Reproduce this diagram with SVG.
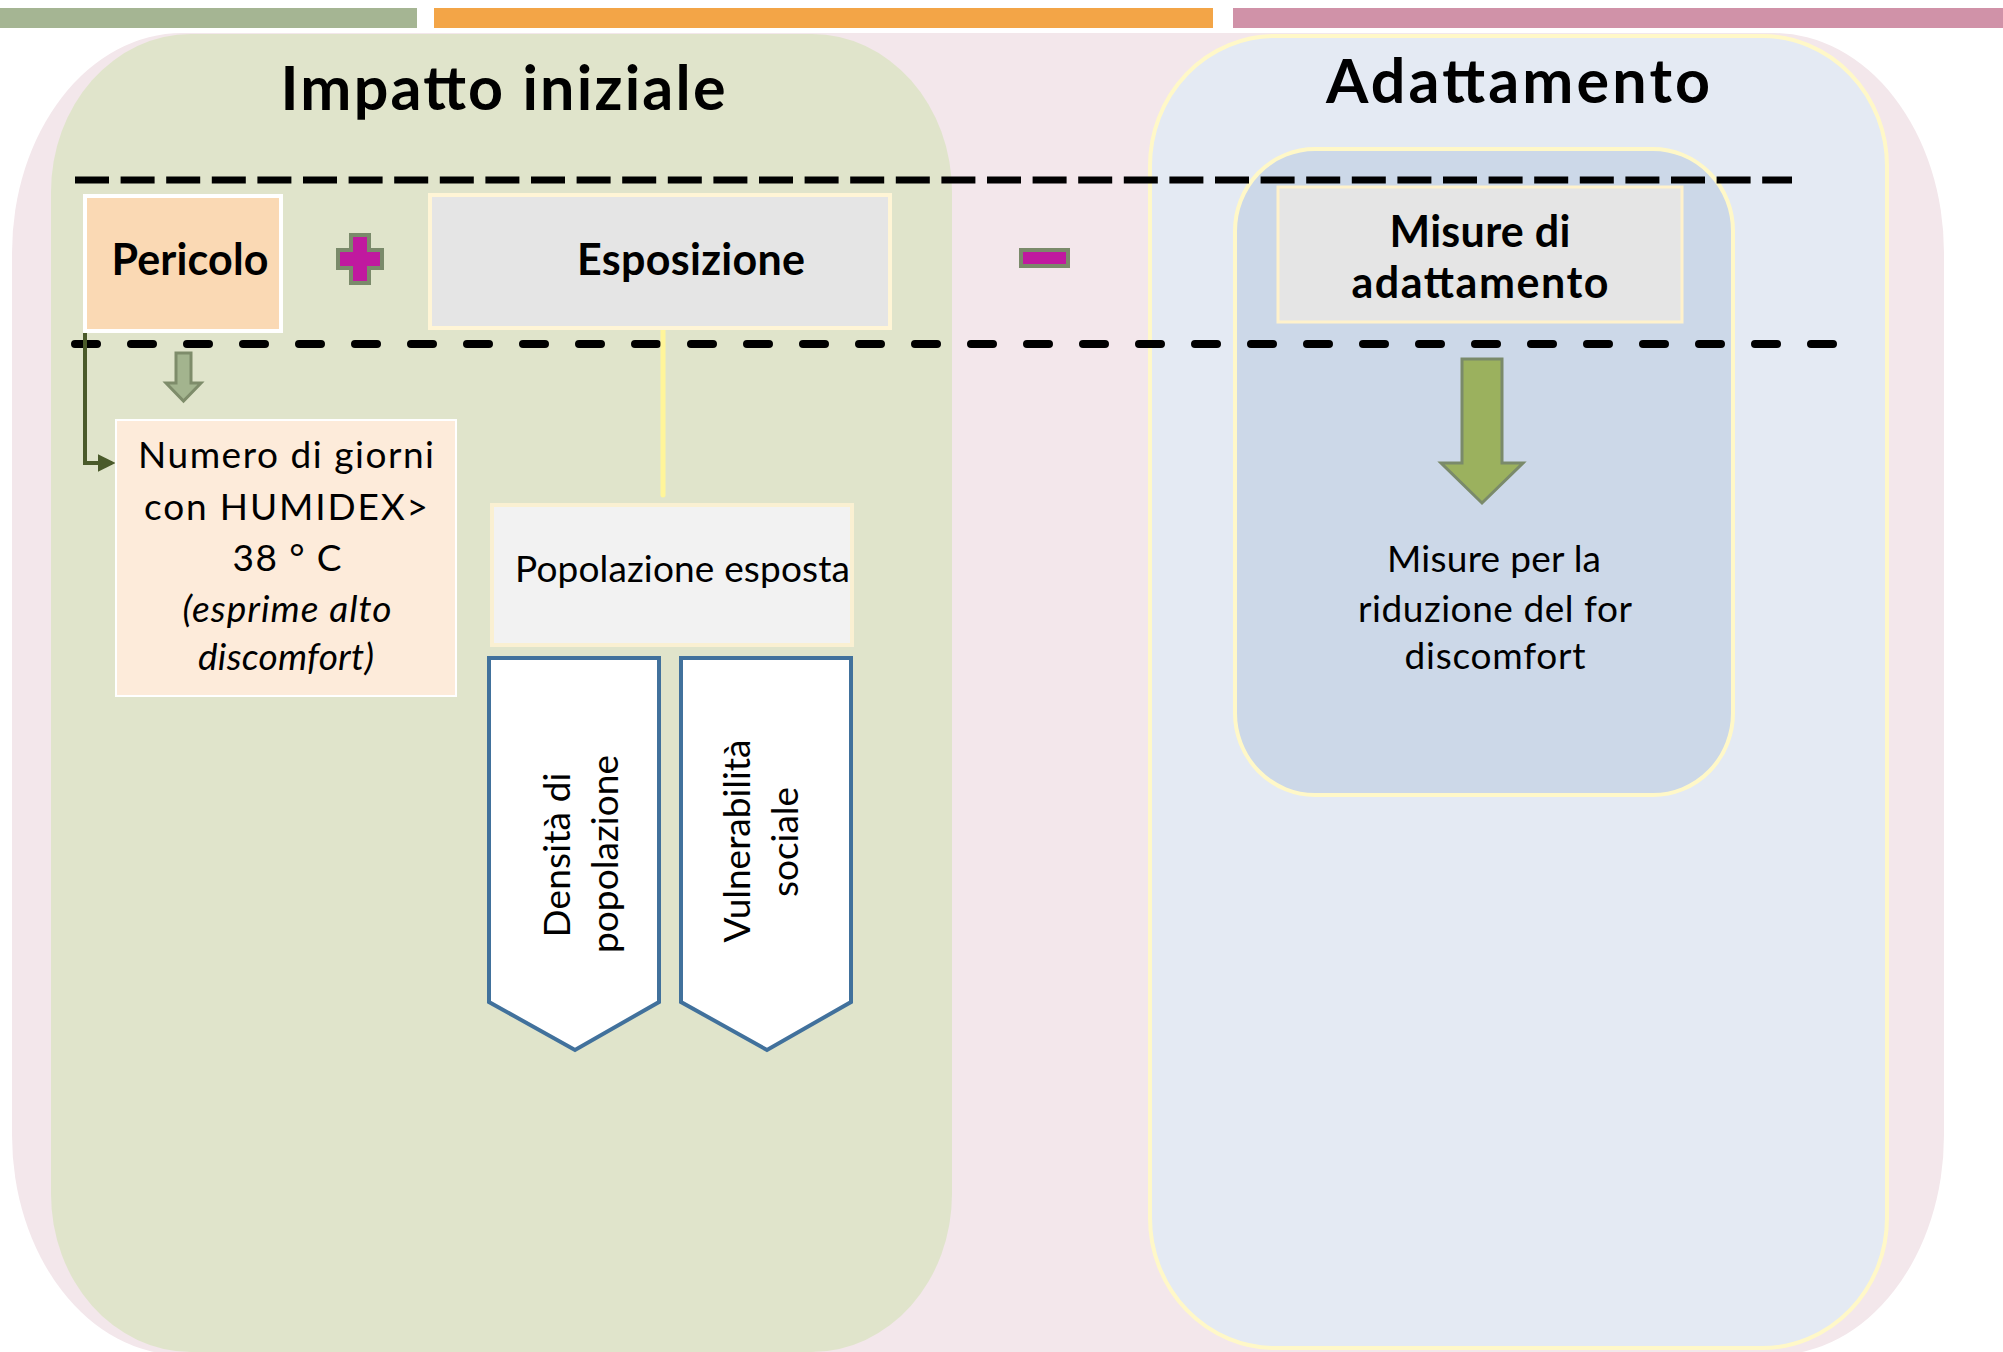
<svg xmlns="http://www.w3.org/2000/svg" width="2003" height="1352" viewBox="0 0 2003 1352">
<defs>
<style>
.t{font-family:Lato,"Open Sans","Liberation Sans",sans-serif;fill:#000}
.title{font-size:61px;font-weight:bold}
.hd{font-size:43px;font-weight:bold}
.bd{font-size:37px}
.dash1{stroke:#000;stroke-width:7;stroke-dasharray:34 11.6;fill:none}
.dash2{stroke:#000;stroke-width:8;stroke-dasharray:22 34;stroke-linecap:round;fill:none}
.pent{fill:#fff;stroke:#41719C;stroke-width:4}
.op{fill:#C0199F;stroke:#7A8A6A;stroke-width:4}
</style>
<marker id="ah" viewBox="0 0 10 10" refX="8" refY="5" markerWidth="4.5" markerHeight="4.5" orient="auto" markerUnits="strokeWidth">
<path d="M0,0 L10,5 L0,10 z" fill="#4A5A2A"/>
</marker>
</defs>
<rect width="2003" height="1352" fill="#fff"/>
<g id="bars">
<rect x="0" y="8" width="417" height="20" fill="#A5B593"/>
<rect x="434" y="8" width="779" height="20" fill="#F3A547"/>
<rect x="1233" y="8" width="770" height="20" fill="#D092A8"/>
</g>
<g id="background">
<rect x="12" y="33" width="1932" height="1322" rx="170" ry="220" fill="#F3E7EB"/>
</g>
<g id="impatto">
<rect x="51" y="34" width="901" height="1318" rx="140" ry="158" fill="#E0E4CB"/>
<text class="t title" x="503" y="110" text-anchor="middle" textLength="445">Impatto iniziale</text>
</g>
<g id="adattamento">
<rect x="1150" y="36" width="737" height="1312" rx="125" ry="130" fill="#E4EAF3" stroke="#FFF8C8" stroke-width="4"/>
<text class="t title" x="1518" y="103" text-anchor="middle" textLength="384">Adattamento</text>
</g>
<g id="adattamento-inner">
<rect x="1235" y="149" width="498" height="646" rx="80" ry="82" fill="#CCD8E8" stroke="#FFF8C8" stroke-width="4"/>
</g>
<g id="dashes">
<line class="dash1" x1="75" y1="180" x2="1792" y2="180"/>
<line class="dash2" x1="75" y1="344" x2="1838" y2="344"/>
</g>
<g id="connectors">
<polyline points="85,331 85,463 112,463" fill="none" stroke="#4A5A2A" stroke-width="4" marker-end="url(#ah)"/>
<line x1="663" y1="327" x2="663" y2="495" stroke="#FFF59A" stroke-width="5" stroke-linecap="round"/>
<path d="M176,353 H191 V383 H201 L183.5,401 L166,383 H176 Z" fill="#A3B48E" stroke="#7E8C6A" stroke-width="3"/>
<path d="M1462,359 H1502 V463 H1523 L1482,503 L1441,463 H1462 Z" fill="#9BB15E" stroke="#7A8A6A" stroke-width="3"/>
</g>
<g id="pericolo">
<rect x="85" y="196" width="196" height="135" fill="#FAD9B4" stroke="#fff" stroke-width="4"/>
<text class="t hd" x="190" y="275" text-anchor="middle" textLength="157">Pericolo</text>
</g>
<g id="plus">
<path class="op" d="M351,235 H369 V250 H382 V268 H369 V283 H351 V268 H338 V250 H351 Z"/>
</g>
<g id="esposizione">
<rect x="430" y="195" width="460" height="133" fill="#E5E5E5" stroke="#FFF5D6" stroke-width="4"/>
<text class="t hd" x="691" y="275" text-anchor="middle" textLength="228">Esposizione</text>
</g>
<g id="minus">
<rect class="op" x="1021" y="250" width="47" height="16"/>
</g>
<g id="misure">
<rect x="1278" y="187" width="404" height="135" fill="#E5E5E5" stroke="#FFF2CC" stroke-width="3"/>
<text class="t hd" x="1480" y="247" text-anchor="middle" textLength="181">Misure di</text>
<text class="t hd" x="1480" y="298" text-anchor="middle" textLength="257">adattamento</text>
</g>
<g id="numero">
<rect x="116" y="420" width="340" height="276" fill="#FDEBDA" stroke="#fff" stroke-width="2"/>
<text class="t bd" x="286" y="468" text-anchor="middle" textLength="296">Numero di giorni</text>
<text class="t bd" x="286" y="520" text-anchor="middle" textLength="284">con HUMIDEX&gt;</text>
<text class="t bd" x="287" y="571" text-anchor="middle" textLength="109">38 ° C</text>
<text class="t bd" x="287" y="622" text-anchor="middle" font-style="italic" textLength="209">(esprime alto</text>
<text class="t bd" x="286" y="670" text-anchor="middle" font-style="italic" textLength="176">discomfort)</text>
</g>
<g id="popolazione">
<rect x="492" y="505" width="360" height="140" fill="#F2F2F2" stroke="#FAF0D2" stroke-width="4"/>
<text class="t bd" x="515" y="582" textLength="335">Popolazione esposta</text>
</g>
<g id="densita">
<path class="pent" d="M489,658 H659 V1002 L575,1050 L489,1002 Z"/>
<text class="t bd" transform="translate(570,855) rotate(-90)" text-anchor="middle" textLength="165">Densità di</text>
<text class="t bd" transform="translate(618,854) rotate(-90)" text-anchor="middle" textLength="198">popolazione</text>
</g>
<g id="vulnerabilita">
<path class="pent" d="M681,658 H851 V1002 L767,1050 L681,1002 Z"/>
<text class="t bd" transform="translate(750,841) rotate(-90)" text-anchor="middle" textLength="203">Vulnerabilità</text>
<text class="t bd" transform="translate(798,842) rotate(-90)" text-anchor="middle" textLength="110">sociale</text>
</g>
<g id="riduzione">
<text class="t bd" x="1494" y="572" text-anchor="middle" textLength="214">Misure per la</text>
<text class="t bd" x="1495" y="622" text-anchor="middle" textLength="274">riduzione del for</text>
<text class="t bd" x="1495" y="669" text-anchor="middle" textLength="181">discomfort</text>
</g>
</svg>
